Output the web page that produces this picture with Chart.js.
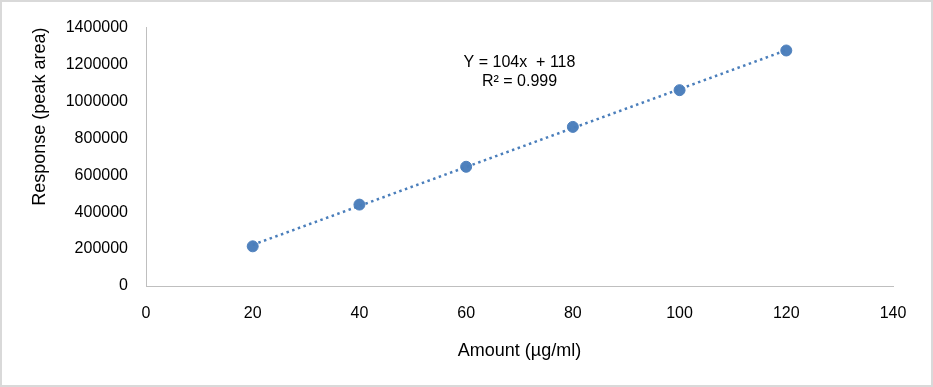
<!DOCTYPE html>
<html>
<head>
<meta charset="utf-8">
<script src="https://cdn.jsdelivr.net/npm/chart.js@4"></script>
<style>
  html, body { margin: 0; padding: 0; background: #fff; }
  #wrap { width: 933px; height: 387px; position: relative; }
</style>
</head>
<body>
<div id="wrap"><canvas id="cal-chart" width="933" height="387"></canvas></div>
<script>
const amounts = [20, 40, 60, 80, 100, 120];
const responses = [215000, 441000, 646000, 862000, 1061000, 1276000];
const trendX = [20, 120];
const xTicks = [0, 20, 40, 60, 80, 100, 120, 140];
const yTicks = [0, 200000, 400000, 600000, 800000, 1000000, 1200000, 1400000];
const equationLines = ['Y = 104x  + 118', 'R\u00b2 = 0.999'];
const equationAt = { x: 70, y: 1210000 };

// least-squares line through the points, like the spreadsheet trendline
const n = amounts.length;
const mx = amounts.reduce((a, b) => a + b, 0) / n;
const my = responses.reduce((a, b) => a + b, 0) / n;
let sxy = 0, sxx = 0;
amounts.forEach((x, i) => { sxy += (x - mx) * (responses[i] - my); sxx += (x - mx) * (x - mx); });
const slope = sxy / sxx;
const intercept = my - slope * mx;
const trendPoints = trendX.map(x => ({ x: x, y: intercept + slope * x }));

const family = 'Liberation Sans, Arial, sans-serif';
const tickFont = { family: family, size: 16 };
const titleFont = { family: family, size: 18 };

const frame = {
    id: 'frame',
    afterDraw(chart) {
        const c = chart.ctx;
        c.save();
        c.strokeStyle = '#d9d9d9';
        c.lineWidth = 2;
        c.strokeRect(1, 1, chart.width - 2, chart.height - 2);
        const xs = chart.scales.x, ys = chart.scales.y;
        c.fillStyle = '#000';
        c.font = '16px ' + family;
        c.textAlign = 'center';
        c.textBaseline = 'middle';
        const px = xs.getPixelForValue(equationAt.x);
        const py = ys.getPixelForValue(equationAt.y);
        equationLines.forEach((t, i) => c.fillText(t, px, py + i * 19));
        c.restore();
    }
};

new Chart(document.getElementById('cal-chart'), {
    type: 'scatter',
    data: {
        datasets: [{
            label: 'Trend',
            data: trendPoints,
            showLine: true,
            borderColor: '#4a7ebb',
            borderWidth: 2.5,
            borderDash: [2.5, 3.5],
            pointRadius: 0,
            fill: false
        }, {
            label: 'Response',
            data: amounts.map((x, i) => ({ x: x, y: responses[i] })),
            backgroundColor: '#4f81bd',
            borderColor: '#4f81bd',
            pointRadius: 5.5,
            showLine: false
        }]
    },
    options: {
        responsive: false,
        animation: false,
        layout: { padding: { top: 26, right: 40, left: 0, bottom: 0 } },
        plugins: { legend: { display: false }, tooltip: { enabled: false } },
        scales: {
            x: {
                type: 'linear',
                min: 0, max: 140,
                afterBuildTicks: s => { s.ticks = xTicks.map(v => ({ value: v })); },
                afterFit: s => { s.height = 101; },
                grid: { display: false, drawTicks: false },
                border: { color: '#bfbfbf', width: 1 },
                ticks: { color: '#000', font: tickFont, padding: 18 },
                title: { display: true, text: 'Amount (\u00b5g/ml)', color: '#000', font: titleFont, padding: { top: 4, bottom: 25 } }
            },
            y: {
                type: 'linear',
                min: 0, max: 1400000,
                afterBuildTicks: s => { s.ticks = yTicks.map(v => ({ value: v })); },
                afterFit: s => { s.width = 146; },
                grid: { display: false, drawTicks: false },
                border: { color: '#bfbfbf', width: 1 },
                ticks: { color: '#000', font: tickFont, padding: 18, callback: v => String(v) },
                title: { display: true, text: 'Response (peak area)', align: 'end', color: '#000', font: titleFont, padding: { top: 29, bottom: 4 } }
            }
        }
    },
    plugins: [frame]
});
</script>
</body>
</html>
